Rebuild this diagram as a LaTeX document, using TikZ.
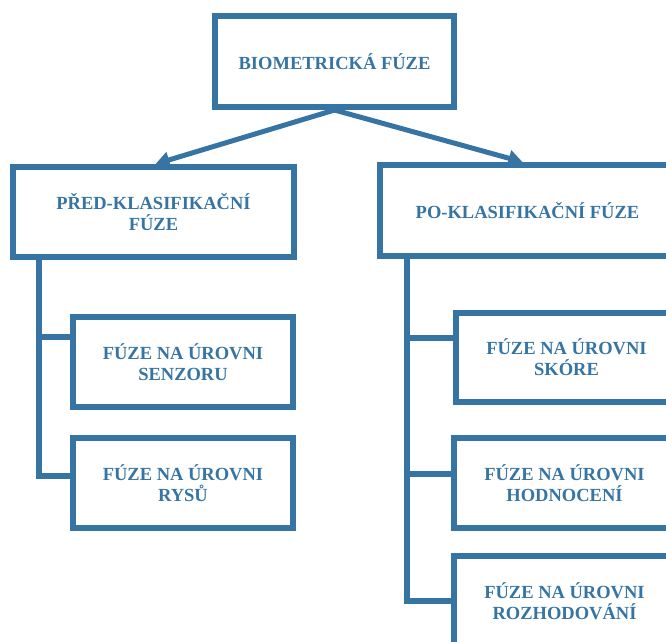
\documentclass[tikz,border=0pt]{standalone}
\usepackage{fontspec}
\setmainfont{Liberation Serif}
\usetikzlibrary{arrows.meta}
\definecolor{fuseblue}{RGB}{54,117,163}

\begin{document}
\begin{tikzpicture}[x=1pt,y=-1pt,
		box/.style={draw=fuseblue, line width=6pt, fill=white, text=fuseblue, align=center,
			font=\fontsize{18.5}{21}\selectfont\bfseries, inner sep=0pt},
		link/.style={draw=fuseblue, line width=6pt},
		arrow/.style={draw=fuseblue, line width=5pt, -{Triangle[length=14pt,width=16pt]}}]
		% page
		\useasboundingbox (0,0) rectangle (666,641);
		\clip (0,0) rectangle (666,641);

		% boxes
		\node[box, minimum width=239pt, minimum height=91pt] (fusion) at (334.5,61.5) {BIOMETRICKÁ FÚZE};
		\node[box, minimum width=281pt, minimum height=90pt] (pre) at (153.5,212) {PŘED-KLASIFIKAČNÍ\\FÚZE};
		\node[box, minimum width=295pt, minimum height=91pt] (post) at (527.5,210.5) {PO-KLASIFIKAČNÍ FÚZE};
		\node[box, minimum width=220pt, minimum height=90pt] (sensor) at (183,362) {FÚZE NA ÚROVNI\\SENZORU};
		\node[box, minimum width=220pt, minimum height=90pt] (features) at (183,483) {FÚZE NA ÚROVNI\\RYSŮ};
		\node[box, minimum width=221pt, minimum height=89pt] (score) at (566.5,357.5) {FÚZE NA ÚROVNI\\SKÓRE};
		\node[box, minimum width=221pt, minimum height=90pt] (rating) at (564.5,483) {FÚZE NA ÚROVNI\\HODNOCENÍ};
		\node[box, minimum width=221pt, minimum height=90pt] (decision) at (564.5,601) {FÚZE NA ÚROVNI\\ROZHODOVÁNÍ};

		% arrows
		\draw[arrow] (fusion.south) -- ([xshift=2pt]pre.north);
		\draw[arrow] (fusion.south) -- ([xshift=-5pt]post.north);

		% trunks
		\draw[link] (pre.south -| 39,0) |- ([yshift=25pt]sensor.west);
		\draw[link] (pre.south -| 39,0) |- ([yshift=7pt]features.west);
		\draw[link] (post.south -| 407,0) |- ([yshift=20pt]score.west);
		\draw[link] (post.south -| 407,0) |- ([yshift=9pt]rating.west);
		\draw[link] (post.south -| 407,0) |- (decision.west);
	\end{tikzpicture}
\end{document}
